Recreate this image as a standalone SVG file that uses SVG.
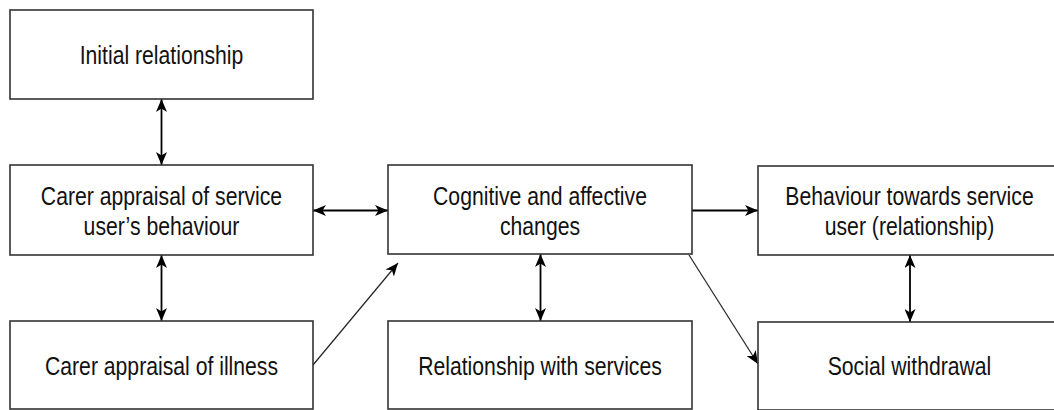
<svg xmlns="http://www.w3.org/2000/svg" width="1054" height="410" viewBox="0 0 1054 410">
<style>
.box{fill:#fff;stroke:#333;stroke-width:1.6}
.lbl{font-family:"Liberation Sans",Arial,sans-serif;font-size:26px;fill:#111;text-anchor:middle}
.con{stroke:#000;stroke-width:1.8;fill:none}
.thin{stroke:#222;stroke-width:1.2;fill:none}
</style>
<defs>
<marker id="ah" viewBox="0 0 13 11" refX="13" refY="5.5" markerWidth="13" markerHeight="11" markerUnits="userSpaceOnUse" orient="auto-start-reverse">
<path d="M0,0 L13,5.5 L0,11 L3.5,5.5 Z" fill="#000"/>
</marker>
</defs>
<rect width="1054" height="410" fill="#fff"/>
<g id="connectors">
<line class="con" x1="161.5" y1="99" x2="161.5" y2="165" marker-start="url(#ah)" marker-end="url(#ah)"/>
<line class="con" x1="161.5" y1="255" x2="161.5" y2="321" marker-start="url(#ah)" marker-end="url(#ah)"/>
<line class="con" x1="313" y1="210.5" x2="388" y2="210.5" marker-start="url(#ah)" marker-end="url(#ah)"/>
<line class="con" x1="692" y1="210.5" x2="758" y2="210.5" marker-end="url(#ah)"/>
<line class="con" x1="540.5" y1="254" x2="540.5" y2="321" marker-start="url(#ah)" marker-end="url(#ah)"/>
<line class="con" x1="910" y1="255" x2="910" y2="322" marker-start="url(#ah)" marker-end="url(#ah)"/>
<line class="thin" x1="313" y1="365" x2="398" y2="263" marker-end="url(#ah)"/>
<line class="thin" x1="689" y1="255" x2="758" y2="364" marker-end="url(#ah)"/>
</g>
<g id="initial-relationship">
<rect class="box" x="10" y="10" width="303" height="89"/>
<text class="lbl" transform="translate(161.5,64) scale(0.815,1)">Initial relationship</text>
</g>
<g id="carer-appraisal-behaviour">
<rect class="box" x="10" y="165" width="303" height="90"/>
<text class="lbl" transform="translate(161.5,205) scale(0.815,1)">Carer appraisal of service</text>
<text class="lbl" transform="translate(161.5,235) scale(0.815,1)">user’s behaviour</text>
</g>
<g id="carer-appraisal-illness">
<rect class="box" x="10" y="321" width="303" height="88"/>
<text class="lbl" transform="translate(161.5,375) scale(0.815,1)">Carer appraisal of illness</text>
</g>
<g id="cognitive-affective">
<rect class="box" x="388" y="165" width="304" height="89"/>
<text class="lbl" transform="translate(540,205) scale(0.815,1)">Cognitive and affective</text>
<text class="lbl" transform="translate(540,235) scale(0.815,1)">changes</text>
</g>
<g id="relationship-services">
<rect class="box" x="388" y="321" width="304" height="88"/>
<text class="lbl" transform="translate(540,375) scale(0.815,1)">Relationship with services</text>
</g>
<g id="behaviour-towards">
<rect class="box" x="758" y="166" width="303" height="89"/>
<text class="lbl" transform="translate(909.5,205) scale(0.815,1)">Behaviour towards service</text>
<text class="lbl" transform="translate(909.5,235) scale(0.815,1)">user (relationship)</text>
</g>
<g id="social-withdrawal">
<rect class="box" x="758" y="322" width="303" height="88"/>
<text class="lbl" transform="translate(909.5,375) scale(0.815,1)">Social withdrawal</text>
</g>
</svg>
